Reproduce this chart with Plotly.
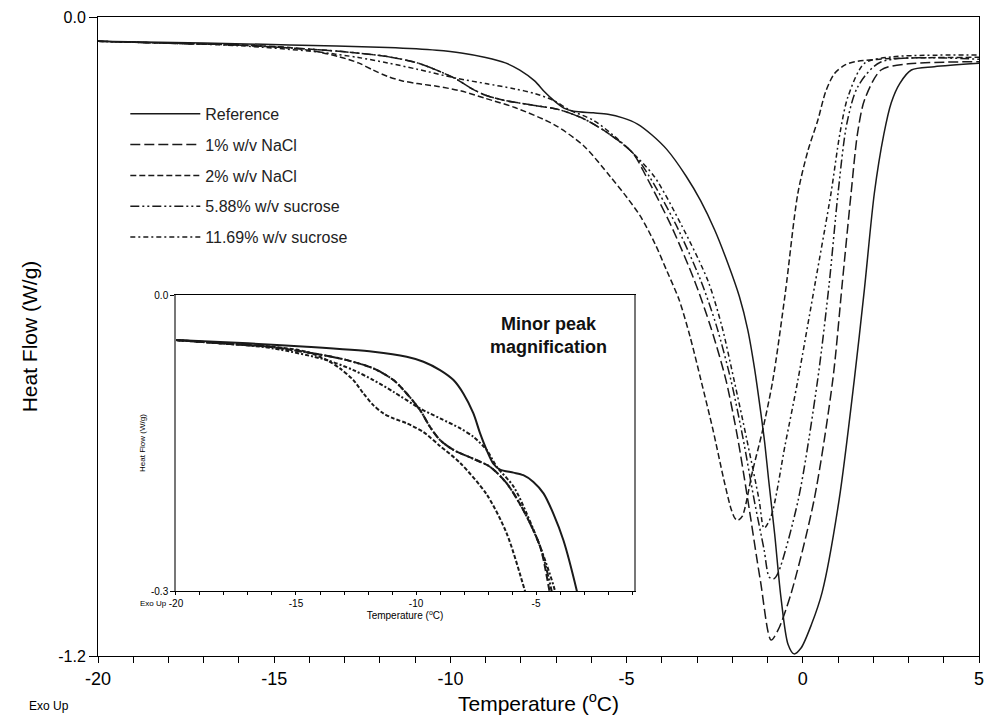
import plotly.graph_objects as go

# ---------------- data (Temperature in degC, Heat flow in W/g) ----------------
ref_T = [-20, -17, -14.56, -11.78, -10.39, -9.69, -9.0, -8.44, -8.03, -7.61, -7.33, -7.06,
         -6.78, -6.5, -5.94, -5.53, -5.11, -4.69, -4.28, -3.86, -3.31, -2.9, -2.5, -2.13,
         -1.8, -1.56, -1.37, -1.19, -1.08, -0.97, -0.8, -0.62, -0.42, -0.25, -0.05, 0.25,
         0.55, 1.03, 1.46, 1.75, 2.03, 2.3, 2.51, 2.75, 3.08, 3.73, 5.0]
ref_HF = [-0.0457, -0.049, -0.0524, -0.0575, -0.0626, -0.0676, -0.0761, -0.0862, -0.0998,
          -0.120, -0.1403, -0.157, -0.171, -0.177, -0.180, -0.1826, -0.1894, -0.201,
          -0.2215, -0.2486, -0.299, -0.345, -0.40, -0.462, -0.525, -0.588, -0.66, -0.744,
          -0.80, -0.869, -0.97, -1.09, -1.178, -1.196, -1.185, -1.14, -1.08, -0.907,
          -0.682, -0.51, -0.331, -0.22, -0.161, -0.125, -0.0995, -0.0933, -0.0869]

nacl1_T = [-20, -17.5, -15.94, -13.17, -11.78, -10.94, -10.39, -9.83, -9.42, -9.0, -8.44,
           -7.61, -6.92, -6.22, -5.53, -4.83, -4.44, -3.75, -3.08, -2.6, -2.18, -1.85,
           -1.56, -1.2, -0.90, -0.70, -0.33, 0.32, 0.85, 1.12, 1.37, 1.55, 1.75, 2.22,
           3.0, 5.0]
nacl1_HF = [-0.0457, -0.050, -0.053, -0.0643, -0.0744, -0.0862, -0.0998, -0.1167, -0.1336,
            -0.147, -0.157, -0.166, -0.174, -0.191, -0.218, -0.255, -0.300, -0.39, -0.494,
            -0.585, -0.682, -0.79, -0.907, -1.06, -1.170, -1.151, -1.082, -0.907, -0.682,
            -0.50, -0.331, -0.22, -0.156, -0.0995, -0.088, -0.0839]

nacl2_T = [-20, -17.5, -15.94, -14.56, -13.72, -13.17, -12.61, -12.19, -11.78, -11.36,
           -10.94, -10.39, -9.69, -9.0, -8.17, -7.06, -6.22, -5.46, -5.0, -4.6, -4.2,
           -3.85, -3.51, -3.2, -2.89, -2.55, -2.24, -2.03, -1.92, -1.84, -1.72, -1.42,
           -1.14, -0.85, -0.5, -0.14, 0.15, 0.43, 0.65, 0.90, 1.2, 1.47, 2.5, 5.0]
nacl2_HF = [-0.0457, -0.050, -0.0524, -0.0575, -0.0659, -0.0744, -0.0862, -0.0998, -0.1116,
            -0.120, -0.125, -0.130, -0.139, -0.153, -0.170, -0.202, -0.2418, -0.300,
            -0.338, -0.375, -0.425, -0.478, -0.531, -0.60, -0.682, -0.775, -0.869, -0.925,
            -0.942, -0.945, -0.938, -0.851, -0.776, -0.682, -0.52, -0.331, -0.25, -0.193,
            -0.14, -0.106, -0.090, -0.084, -0.078, -0.0757]

suc588_T = [-20, -17.5, -15.94, -13.17, -11.78, -10.94, -10.39, -9.83, -9.42, -9.0, -8.44,
            -7.61, -6.92, -6.22, -5.53, -4.83, -4.35, -3.6, -2.9, -2.45, -2.04, -1.7,
            -1.38, -1.1, -0.95, -0.82, -0.70, -0.13, 0.42, 0.75, 1.0, 1.25, 1.56, 2.2, 5.0]
suc588_HF = [-0.0457, -0.050, -0.053, -0.0643, -0.0744, -0.0862, -0.0998, -0.1167, -0.1336,
             -0.147, -0.157, -0.166, -0.174, -0.191, -0.218, -0.255, -0.300, -0.39, -0.494,
             -0.58, -0.682, -0.79, -0.907, -1.00, -1.052, -1.055, -1.044, -0.907, -0.682,
             -0.50, -0.331, -0.20, -0.131, -0.085, -0.0795]

suc1169_T = [-20, -17.5, -15.94, -13.72, -12.61, -11.78, -10.94, -9.83, -9.0, -8.17, -7.61,
             -7.06, -6.64, -5.94, -5.39, -4.83, -4.21, -3.45, -2.7, -2.3, -1.95, -1.6,
             -1.24, -1.10, -0.90, -0.5, -0.14, 0.35, 0.80, 1.05, 1.28, 1.75, 2.5, 5.0]
suc1169_HF = [-0.0457, -0.050, -0.0541, -0.0659, -0.0761, -0.0862, -0.0981, -0.115, -0.125,
              -0.135, -0.1437, -0.157, -0.174, -0.194, -0.2215, -0.255, -0.300, -0.39,
              -0.494, -0.58, -0.682, -0.79, -0.907, -0.960, -0.938, -0.803, -0.682, -0.50,
              -0.331, -0.22, -0.150, -0.087, -0.075, -0.0714]

names = ["Reference", "1% w/v NaCl", "2% w/v NaCl", "5.88% w/v sucrose", "11.69% w/v sucrose"]
xs = [ref_T, nacl1_T, nacl2_T, suc588_T, suc1169_T]
ys = [ref_HF, nacl1_HF, nacl2_HF, suc588_HF, suc1169_HF]

main_x_ticks = [-20, -15, -10, -5, 0, 5]
main_x_labels = ["-20", "-15", "-10", "-5", "0", "5"]
main_y_ticks = [0.0, -1.2]
main_y_labels = ["0.0", "-1.2"]
inset_x_ticks = [-20, -15, -10, -5]
inset_x_labels = ["-20", "-15", "-10", "-5"]
inset_y_ticks = [0.0, -0.3]
inset_y_labels = ["0.0", "-0.3"]

# ---------------- styling ----------------
main_dash = ["solid", "10px,4px", "6px,3px", "9px,3px,2px,3px,2px,3px", "5px,3px,2px,3px"]
inset_dash = ["solid", "7px,3px", "4px,2px", "7px,2px,2px,2px,2px,2px", "4px,2px,2px,2px"]

NARROW = "Liberation Sans Narrow, Liberation Sans, Arial, sans-serif"
SANS = "Liberation Sans, Arial, sans-serif"
INK = "#1a1a1a"

fig = go.Figure()
for i in range(5):
    fig.add_trace(go.Scatter(
        x=xs[i], y=ys[i], mode="lines", name=names[i], legendgroup=names[i],
        line=dict(color=INK, width=1.5, dash=main_dash[i], shape="spline", smoothing=0.8),
        xaxis="x", yaxis="y", hoverinfo="skip"))
for i in range(5):
    fig.add_trace(go.Scatter(
        x=xs[i], y=ys[i], mode="lines", name=names[i], showlegend=False,
        line=dict(color=INK, width=2, dash=inset_dash[i], shape="spline", smoothing=0.8),
        xaxis="x2", yaxis="y2", hoverinfo="skip"))

# The page body has an 8px default margin, so margins are offset by 8px.
fig.update_layout(
    template="none",
    width=992, height=721, autosize=False,
    margin=dict(l=90, r=21, t=9, b=73, autoexpand=False),
    paper_bgcolor="white", plot_bgcolor="rgba(0,0,0,0)",
    font=dict(family=SANS, color="black"),
    showlegend=True,
    legend=dict(x=0.031, y=0.875, xanchor="left", yanchor="top",
                bgcolor="rgba(0,0,0,0)", borderwidth=0,
                font=dict(family=SANS, size=16, color="#222"),
                itemwidth=70, tracegroupgap=7),
    xaxis=dict(domain=[0, 1], anchor="y", range=[-20, 5], automargin=False,
               tickmode="array", tickvals=main_x_ticks, ticktext=main_x_labels,
               ticks="outside", ticklen=6, tickcolor="black", tickwidth=1,
               minor=dict(tickmode="linear", tick0=-20, dtick=1, ticks="outside",
                          ticklen=6, tickcolor="black", tickwidth=1),
               showline=True, linecolor="black", linewidth=1, mirror=True,
               showgrid=False, zeroline=False,
               tickfont=dict(family=NARROW, size=18, color="black"),
               title=dict(text="Temperature (<sup>o</sup>C)",
                          font=dict(family=NARROW, size=21, color="black"), standoff=8)),
    yaxis=dict(domain=[0, 1], anchor="x", range=[-1.2, 0], automargin=False,
               tickmode="array", tickvals=main_y_ticks, ticktext=main_y_labels,
               ticks="outside", ticklen=8, tickcolor="black",
               showline=True, linecolor="black", linewidth=1, mirror=True,
               showgrid=False, zeroline=False,
               tickfont=dict(family=SANS, size=16, color="black"),
               title=dict(text="Heat Flow (W/g)",
                          font=dict(family=SANS, size=21, color="black"), standoff=14)),
    xaxis2=dict(domain=[0.0885, 0.6084], anchor="y2", range=[-20, -0.92], automargin=False,
                tickmode="array", tickvals=inset_x_ticks, ticktext=inset_x_labels,
                ticks="outside", ticklen=3, tickcolor="black",
                minor=dict(tickmode="linear", tick0=-20, dtick=1, ticks="outside",
                           ticklen=3, tickcolor="black"),
                showline=True, linecolor="black", linewidth=1, mirror=True,
                showgrid=False, zeroline=False,
                tickfont=dict(family=NARROW, size=10, color="black"),
                title=dict(text="Temperature (<sup>o</sup>C)",
                           font=dict(family=SANS, size=10, color="black"), standoff=1)),
    yaxis2=dict(domain=[0.1017, 0.5649], anchor="x2", range=[-0.3, 0], automargin=False,
                tickmode="array", tickvals=inset_y_ticks, ticktext=inset_y_labels,
                ticks="outside", ticklen=4, tickcolor="black",
                showline=True, linecolor="#777", linewidth=1.5, mirror=True,
                showgrid=False, zeroline=False,
                tickfont=dict(family=SANS, size=10, color="black"),
                title=dict(text="Heat Flow (W/g)",
                           font=dict(family=SANS, size=8, color="black"), standoff=4)),
    annotations=[
        dict(text="Exo Up", xref="paper", yref="paper", x=-0.0556, y=-0.079,
             xanchor="center", yanchor="middle",
             showarrow=False, font=dict(family=NARROW, size=12, color="black")),
        dict(text="Exo Up", xref="paper", yref="paper", x=0.063, y=0.082,
             xanchor="center", yanchor="middle",
             showarrow=False, font=dict(family=NARROW, size=8, color="black")),
        dict(text="<b>Minor peak<br>magnification</b>", xref="paper", yref="paper",
             x=0.5108, y=0.5023, xanchor="center", yanchor="middle",
             showarrow=False, align="center",
             font=dict(family=SANS, size=18, color="#111")),
    ],
)

fig.write_html("out.html")
